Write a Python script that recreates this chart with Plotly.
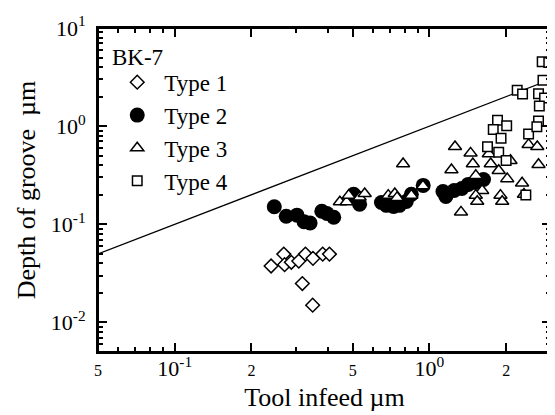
import plotly.graph_objects as go

# Values (log-log axes)
line_x = [0.05, 3]
line_y = [0.05, 3]

type1_x = [0.239, 0.268, 0.270, 0.287, 0.307, 0.326, 0.349, 0.381, 0.405, 0.317, 0.348]
type1_y = [0.0376, 0.0497, 0.0388, 0.041, 0.0422, 0.0497, 0.045, 0.0497, 0.0497, 0.0249, 0.015]

type2_x = [0.246, 0.274, 0.302, 0.322, 0.340, 0.378, 0.421, 0.396, 0.504, 0.518, 0.532,
           0.648, 0.678, 0.723, 0.762, 0.811, 0.849, 0.945, 1.13, 1.16, 1.25, 1.34,
           1.42, 1.52, 1.63]
type2_y = [0.151, 0.121, 0.124, 0.106, 0.103, 0.136, 0.118, 0.129, 0.202, 0.188, 0.160,
           0.167, 0.156, 0.152, 0.156, 0.171, 0.202, 0.249, 0.216, 0.192, 0.221, 0.232,
           0.255, 0.267, 0.286]

type3_x = [0.445, 0.473, 0.482, 0.532, 0.557, 0.689, 0.731, 0.746, 0.788, 0.849, 0.943,
           1.22, 1.26, 1.33, 1.45, 1.48, 1.52, 1.61, 1.52, 1.54, 1.71, 1.74, 1.87,
           1.90, 1.93, 2.02, 2.08, 2.31, 2.35, 2.45, 2.65, 2.68]
type3_y = [0.169, 0.169, 0.197, 0.189, 0.205, 0.197, 0.205, 0.187, 0.413, 0.197, 0.246,
           0.359, 0.618, 0.133, 0.531, 0.413, 0.314, 0.221, 0.197, 0.171, 0.521, 0.413,
           0.353, 0.197, 0.171, 0.291, 0.446, 0.263, 0.202, 0.648, 0.618, 0.406]

type4_x = [2.21, 2.32, 2.77, 2.94, 2.79, 2.68, 2.83, 2.70, 1.85, 1.78, 2.01, 1.91,
           1.69, 1.87, 2.00, 2.45, 2.68, 2.64, 2.39]
type4_y = [2.32, 2.13, 4.53, 4.44, 2.93, 2.14, 1.93, 1.60, 1.15, 0.924, 1.01, 0.754,
           0.618, 0.541, 0.446, 0.832, 1.13, 0.986, 0.199]

x_major = [0.05, 0.1, 0.2, 0.5, 1, 2]
x_labels = ["5", "10<sup>-1</sup>", "2", "5", "10<sup>0</sup>", "2"]
x_minor = [0.06, 0.07, 0.08, 0.09, 0.3, 0.4, 0.6, 0.7, 0.8, 0.9, 3]

y_major = [0.01, 0.1, 1, 10]
y_labels = ["10<sup>-2</sup>", "10<sup>-1</sup>", "10<sup>0</sup>", "10<sup>1</sup>"]
y_minor = [m * d for d in [0.001, 0.01, 0.1, 1] for m in range(2, 10) if 0.005 <= m * d <= 10]

FONT = "Liberation Serif"
XR = [-1.30103, 0.47712]
YR = [-2.30103, 1]


def small(t):
    if t.startswith("10"):
        return t
    return '<span style="font-size:16px">' + t + '</span>'


fig = go.Figure()

fig.add_trace(go.Scatter(x=line_x, y=line_y, mode="lines",
                         line=dict(color="black", width=1.3), showlegend=False))

fig.add_trace(go.Scatter(x=type2_x, y=type2_y, mode="markers", name="Type 2",
                         legendrank=2, legendgroup="2",
                         marker=dict(symbol="circle", size=15, color="black",
                                     line=dict(color="black", width=0))))
fig.add_trace(go.Scatter(x=type1_x, y=type1_y, mode="markers", name="Type 1",
                         legendrank=1, legendgroup="1",
                         marker=dict(symbol="diamond", size=10.5, color="white",
                                     line=dict(color="black", width=1.5))))
fig.add_trace(go.Scatter(x=type3_x, y=type3_y, mode="markers", name="Type 3",
                         legendrank=3, legendgroup="3",
                         marker=dict(symbol="triangle-up", size=11.5, color="white",
                                     line=dict(color="black", width=1.5))))
fig.add_trace(go.Scatter(x=type4_x, y=type4_y, mode="markers", name="Type 4",
                         legendrank=4, legendgroup="4",
                         marker=dict(symbol="square", size=9.5, color="white",
                                     line=dict(color="black", width=1.5))))

# invisible trace on a second subplot sharing the same area: top/right minor ticks
fig.add_trace(go.Scatter(x=line_x, y=line_y, mode="lines", xaxis="x2", yaxis="y2",
                         opacity=0, showlegend=False, hoverinfo="skip"))

axis_common = dict(type="log", showgrid=False, zeroline=False,
                   showline=True, linecolor="black", linewidth=2,
                   ticks="inside", ticklen=9, tickwidth=1.5, tickcolor="black",
                   tickmode="array",
                   tickfont=dict(family=FONT, size=22, color="black"))
minor_x = dict(tickvals=x_minor, ticks="inside", ticklen=5, tickwidth=1.5, tickcolor="black")
minor_y = dict(tickvals=y_minor, ticks="inside", ticklen=5, tickwidth=1.5, tickcolor="black")

# page body has an 8px margin, so the figure is 8px smaller than the window
fig.update_layout(
    xaxis=dict(**axis_common, range=XR, mirror="ticks",
               tickvals=x_major, ticktext=[small(t) for t in x_labels],
               ticklabelstandoff=-4, minor=minor_x,
               title=dict(text="Tool infeed \u00b5m", standoff=7,
                          font=dict(family=FONT, size=26, color="black"))),
    yaxis=dict(**axis_common, range=YR, mirror="ticks",
               tickvals=y_major, ticktext=y_labels,
               ticklabelstandoff=6, minor=minor_y,
               title=dict(text="Depth of groove\u00a0\u00a0\u00b5m", standoff=8,
                          font=dict(family=FONT, size=26, color="black"))),
    xaxis2=dict(**axis_common, range=XR, domain=[0, 1], anchor="y2", side="top",
                tickvals=x_major, showticklabels=False, minor=minor_x),
    yaxis2=dict(**axis_common, range=YR, domain=[0, 1], anchor="x2", side="right",
                tickvals=y_major, showticklabels=False, minor=minor_y),
    width=547, height=407,
    margin=dict(l=90, r=2, t=20, b=63),
    plot_bgcolor="rgba(0,0,0,0)", paper_bgcolor="white",
    legend=dict(x=0.027, y=0.899, xanchor="left", yanchor="top",
                traceorder="grouped", tracegroupgap=0, itemwidth=44,
                bgcolor="rgba(0,0,0,0)",
                font=dict(family=FONT, size=23, color="black")),
    annotations=[dict(text="BK-7", xref="paper", yref="paper", x=0.026, y=0.953,
                      xanchor="left", yanchor="top", showarrow=False,
                      font=dict(family=FONT, size=23, color="black"))],
    # plot frame
    shapes=[dict(type="rect", xref="paper", yref="paper", x0=0, y0=0, x1=1, y1=1,
                 line=dict(color="black", width=2), layer="above")],
)

fig.write_html("out.html")
